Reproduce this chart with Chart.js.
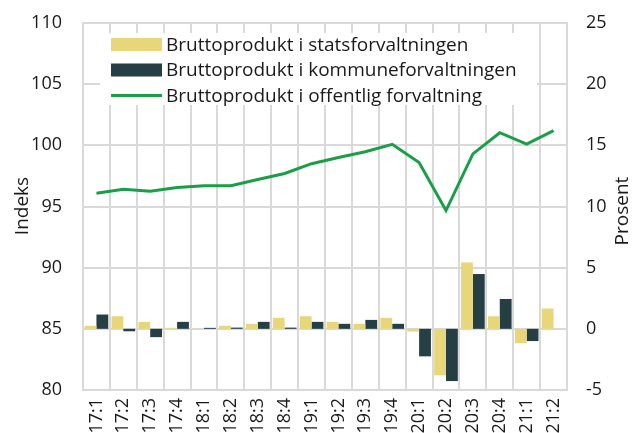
<!DOCTYPE html>
<html lang="no">
<head>
<meta charset="UTF-8">
<title>Bruttoprodukt i offentlig forvaltning</title>
<script src="https://cdn.jsdelivr.net/npm/chart.js"></script>
<style>
  html, body { margin: 0; padding: 0; background: #ffffff; }
  #wrap { width: 637px; height: 433px; }
</style>
</head>
<body>
<div id="wrap"><canvas id="graf" width="637" height="433"></canvas></div>
<script>
// kvartaler
var kvartaler = ['17:1', '17:2', '17:3', '17:4', '18:1', '18:2', '18:3', '18:4', '19:1',
                 '19:2', '19:3', '19:4', '20:1', '20:2', '20:3', '20:4', '21:1', '21:2'];

// prosentvis endring (høyre akse)
var stat = [0.25, 1.03, 0.57, 0.08, 0.02, 0.25, 0.41, 0.9, 1.03,
            0.57, 0.41, 0.9, -0.22, -3.8, 5.43, 1.03, -1.17, 1.66];
var kommune = [1.17, -0.2, -0.68, 0.57, 0.08, 0.1, 0.57, 0.1, 0.57,
               0.41, 0.73, 0.41, -2.25, -4.27, 4.48, 2.44, -1.0, null];

// indeks (venstre akse)
var offentlig = [96.08, 96.4, 96.25, 96.55, 96.7, 96.7, 97.2, 97.7, 98.5,
                 99.0, 99.47, 100.08, 98.6, 94.67, 99.3, 101.03, 100.1, 101.2];

var venstreTicks = [80, 85, 90, 95, 100, 105, 110];
var hoyreTicks = [-5, 0, 5, 10, 15, 20, 25];

var gul = '#e8d67a';
var mork = '#263f44';
var gronn = '#1b9e48';
var rutenett = '#d9d9d9';
var tekst = '#1a1a1a';
var font = "'Open Sans', sans-serif";

// egen tegnforklaring inne i plottet, med hvit bakgrunn
var forklaring = {
    id: 'forklaring',
    beforeDatasetsDraw: function (chart) {
        var ctx = chart.ctx;
        ctx.save();
        ctx.fillStyle = '#ffffff';
        ctx.fillRect(100, 33, 437, 72);
        var rader = [chart.data.datasets[1], chart.data.datasets[2], chart.data.datasets[0]];
        ctx.font = '19px ' + font;
        ctx.textBaseline = 'middle';
        for (var i = 0; i < rader.length; i++) {
            var ds = rader[i];
            var y = 44.5 + i * 25.5;
            if (ds.type === 'line') {
                ctx.fillStyle = ds.borderColor;
                ctx.fillRect(111, y - 1.5, 51, 3);
            } else {
                ctx.fillStyle = ds.backgroundColor;
                ctx.fillRect(111, y - 6.5, 51, 13);
            }
            ctx.fillStyle = tekst;
            ctx.fillText(ds.label, 166, y + 1);
        }
        ctx.restore();
    },
    afterDraw: function (chart) {
        // aksetitler, begge lest nedenfra og opp
        var titler = [['Indeks', 23, 206], ['Prosent', 623, 211]];
        var ctx = chart.ctx;
        titler.forEach(function (t) {
            ctx.save();
            ctx.font = '19px ' + font;
            ctx.fillStyle = tekst;
            ctx.textAlign = 'center';
            ctx.textBaseline = 'middle';
            ctx.translate(t[1], t[2]);
            ctx.rotate(-Math.PI / 2);
            ctx.fillText(t[0], 0, 0);
            ctx.restore();
        });
    }
};

// fast bredde på y-aksene, uten ekstra luft over og under
function fastBredde(bredde) {
    return function (s) {
        s.width = bredde;
        s.paddingTop = 0;
        s.paddingBottom = 0;
    };
}

new Chart(document.getElementById('graf'), {
    type: 'bar',
    data: {
        labels: kvartaler,
        datasets: [
            {
                type: 'line',
                label: 'Bruttoprodukt i offentlig forvaltning',
                data: offentlig,
                yAxisID: 'y',
                borderColor: gronn,
                backgroundColor: gronn,
                borderWidth: 3,
                pointRadius: 0,
                tension: 0,
                order: 0
            },
            {
                label: 'Bruttoprodukt i statsforvaltningen',
                data: stat,
                yAxisID: 'y1',
                backgroundColor: gul,
                order: 1
            },
            {
                label: 'Bruttoprodukt i kommuneforvaltningen',
                data: kommune,
                yAxisID: 'y1',
                backgroundColor: mork,
                order: 1
            }
        ]
    },
    options: {
        responsive: false,
        animation: false,
        layout: { padding: { top: 23, left: 0, right: 0, bottom: 0 } },
        datasets: {
            bar: { categoryPercentage: 0.88, barPercentage: 1.0 }
        },
        plugins: {
            legend: { display: false },
            tooltip: { enabled: false }
        },
        scales: {
            x: {
                grid: { color: rutenett, lineWidth: 2, offset: true, drawTicks: false },
                border: { color: rutenett, width: 2 },
                ticks: {
                    color: tekst,
                    font: { family: font, size: 18 },
                    minRotation: 90,
                    maxRotation: 90,
                    autoSkip: false,
                    padding: 8
                },
                afterFit: function (s) { s.height = 43; }
            },
            y: {
                position: 'left',
                min: 80,
                max: 110,
                afterBuildTicks: function (s) {
                    s.ticks = venstreTicks.map(function (v) { return { value: v }; });
                },
                grid: { color: rutenett, lineWidth: 2, drawTicks: false },
                border: { color: rutenett, width: 2 },
                ticks: {
                    color: tekst,
                    font: { family: font, size: 18 },
                    padding: 21
                },
                afterFit: fastBredde(83)
            },
            y1: {
                position: 'right',
                min: -5,
                max: 25,
                afterBuildTicks: function (s) {
                    s.ticks = hoyreTicks.map(function (v) { return { value: v }; });
                },
                grid: { display: false, drawTicks: false },
                border: { color: rutenett, width: 2 },
                ticks: {
                    color: tekst,
                    font: { family: font, size: 18 },
                    padding: 19
                },
                afterFit: fastBredde(70)
            }
        }
    },
    plugins: [forklaring]
});
</script>
</body>
</html>
